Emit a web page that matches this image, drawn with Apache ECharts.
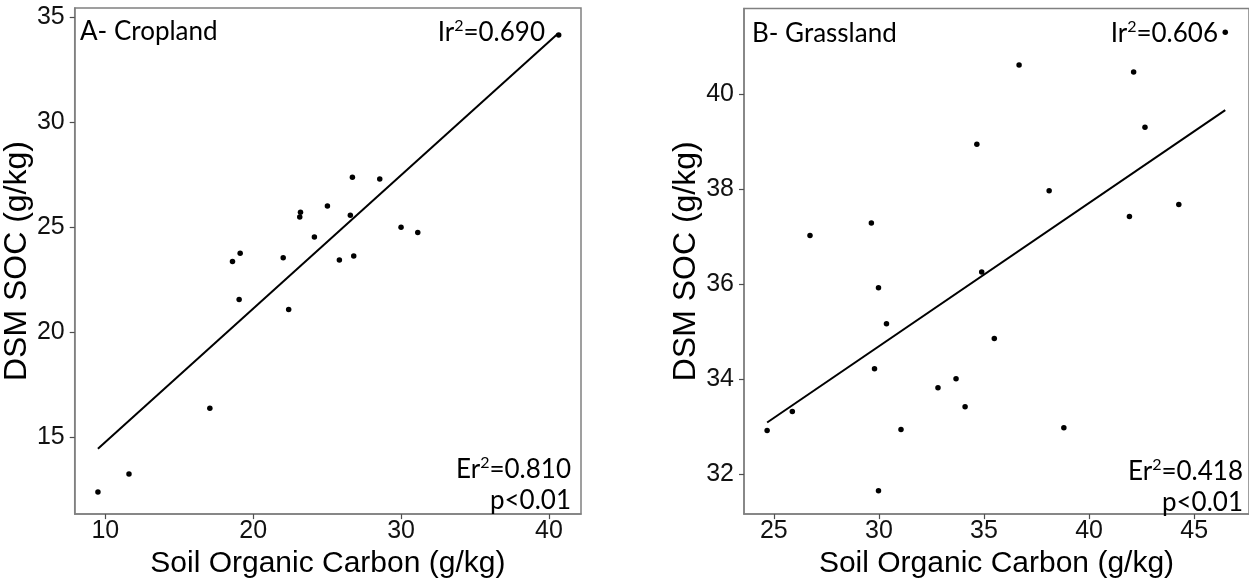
<!DOCTYPE html>
<html>
<head>
<meta charset="utf-8">
<script src="https://cdn.jsdelivr.net/npm/echarts@6/dist/echarts.min.js"></script>
<style>
html,body{margin:0;padding:0;background:#fff;}
#chart{width:1249px;height:584px;}
</style>
</head>
<body>
<div id="chart"></div>
<script>
// ---- Data ----
// Panel A - Cropland: [Soil Organic Carbon, DSM SOC]
const croplandPoints = [
  [9.5, 12.4], [11.6, 13.26], [17.07, 16.39], [18.6, 23.36], [19.12, 23.76],
  [19.05, 21.56], [22.03, 23.54], [22.4, 21.08], [23.2, 25.7], [23.15, 25.48],
  [24.14, 24.53], [25.02, 26.0], [25.83, 23.44], [26.57, 25.56], [26.71, 27.37],
  [26.8, 23.63], [28.56, 27.29], [30.0, 24.99], [31.13, 24.74], [40.66, 34.13]
];
const croplandFit = [[9.5, 14.46], [40.6, 34.2]];
const croplandXTicks = [10, 20, 30, 40];
const croplandYTicks = [15, 20, 25, 30, 35];

// Panel B - Grassland
const grasslandPoints = [
  [24.68, 32.92], [25.88, 33.32], [26.72, 37.03], [29.64, 37.29], [29.98, 35.93],
  [30.36, 35.17], [29.79, 34.22], [29.98, 31.65], [31.05, 32.94], [32.81, 33.82],
  [33.67, 34.01], [34.10, 33.42], [34.66, 38.95], [34.89, 36.26], [35.49, 34.86],
  [36.67, 40.62], [38.10, 37.97], [38.80, 32.98], [41.92, 37.43], [42.12, 40.47],
  [42.66, 39.31], [44.27, 37.68], [46.48, 41.31]
];
const grasslandFit = [[24.68, 33.09], [46.48, 39.67]];
const grasslandXTicks = [25, 30, 35, 40, 45];
const grasslandYTicks = [32, 34, 36, 38, 40];

const xTitle = 'Soil Organic Carbon (g/kg)';
const yTitle = 'DSM SOC (g/kg)';
const panelLabels = ['A- Cropland', 'B- Grassland'];
const irValues = ['0.690', '0.606'];
const erValues = ['0.810', '0.418'];
const pLabels = ['p<0.01', 'p<0.01'];

// ---- Chart ----
const chart = echarts.init(document.getElementById('chart'), null, {renderer: 'canvas'});
const boxColor = '#808080';
const tickColor = '#4d4d4d';
const sansFamily = 'Liberation Sans, Arial, sans-serif';
const labelFont = {color: '#111', fontSize: 25, fontFamily: sansFamily};

function xAxis(gridIndex, min, max, ticks) {
  return {
    type: 'value', gridIndex, min, max,
    name: xTitle, nameLocation: 'middle', nameGap: 26,
    nameTextStyle: {color: '#000', fontSize: 30, fontFamily: sansFamily},
    axisLine: {show: true, onZero: false, lineStyle: {color: boxColor, width: 1.5}},
    axisTick: {show: true, length: 5, customValues: ticks, lineStyle: {color: tickColor, width: 1.2}},
    axisLabel: {customValues: ticks, margin: 5, ...labelFont},
    splitLine: {show: false}
  };
}
function yAxis(gridIndex, min, max, ticks, gap) {
  return {
    type: 'value', gridIndex, min, max,
    name: yTitle, nameLocation: 'middle', nameGap: gap,
    nameTextStyle: {color: '#000', fontSize: 32, fontFamily: sansFamily},
    axisLine: {show: true, onZero: false, lineStyle: {color: boxColor, width: 1.5}},
    axisTick: {show: true, length: 5, customValues: ticks, lineStyle: {color: tickColor, width: 1.2}},
    axisLabel: {customValues: ticks, margin: 10, ...labelFont},
    splitLine: {show: false}
  };
}

const annFamily = 'Lato, "Open Sans", sans-serif';
const annSize = 26;
const annRich = {
  n: {fontSize: annSize, fontFamily: annFamily, color: '#000', lineHeight: 28, verticalAlign: 'bottom'},
  s: {fontSize: 16, fontFamily: annFamily, color: '#000', lineHeight: 28, verticalAlign: 'top'}
};
function txt(x, y, text, align) {
  return {
    type: 'text', x, y, z: 100,
    style: {text, rich: annRich, fill: '#000', font: annSize + 'px ' + annFamily,
            align, verticalAlign: 'middle'}
  };
}
function r2(prefix, val) { return '{n|' + prefix + '}{s|2}{n|=' + val + '}'; }

const pointStyle = {color: '#000', opacity: 1};

const option = {
  animation: false,
  backgroundColor: '#fff',
  grid: [
    {left: 73, top: 8, width: 508, height: 515, show: true, borderColor: boxColor, borderWidth: 1.5, containLabel: false},
    {left: 744, top: 8.5, width: 508, height: 512.2, show: true, borderColor: boxColor, borderWidth: 1.5, containLabel: false}
  ],
  xAxis: [
    xAxis(0, 7.93, 42.17, croplandXTicks),
    xAxis(1, 23.58, 47.61, grasslandXTicks)
  ],
  yAxis: [
    yAxis(0, 11.35, 35.42, croplandYTicks, 29),
    yAxis(1, 31.16, 41.81, grasslandYTicks, 30)
  ],
  series: [
    {type: 'scatter', xAxisIndex: 0, yAxisIndex: 0, data: croplandPoints, symbolSize: 5.5,
     itemStyle: pointStyle, silent: true},
    {type: 'line', xAxisIndex: 0, yAxisIndex: 0, data: croplandFit, symbol: 'none',
     lineStyle: {color: '#000', width: 2}, silent: true},
    {type: 'scatter', xAxisIndex: 1, yAxisIndex: 1, data: grasslandPoints, symbolSize: 5.5,
     itemStyle: pointStyle, silent: true},
    {type: 'line', xAxisIndex: 1, yAxisIndex: 1, data: grasslandFit, symbol: 'none',
     lineStyle: {color: '#000', width: 2}, silent: true}
  ],
  graphic: [
    txt(80, 31, '{n|' + panelLabels[0] + '}', 'left'),
    txt(545, 32, r2('Ir', irValues[0]), 'right'),
    txt(571, 469, r2('Er', erValues[0]), 'right'),
    txt(571, 500, '{n|' + pLabels[0] + '}', 'right'),
    txt(752, 33, '{n|' + panelLabels[1] + '}', 'left'),
    txt(1218, 33, r2('Ir', irValues[1]), 'right'),
    txt(1243, 471, r2('Er', erValues[1]), 'right'),
    txt(1243, 502, '{n|' + pLabels[1] + '}', 'right')
  ]
};
chart.setOption(option);
</script>
</body>
</html>
